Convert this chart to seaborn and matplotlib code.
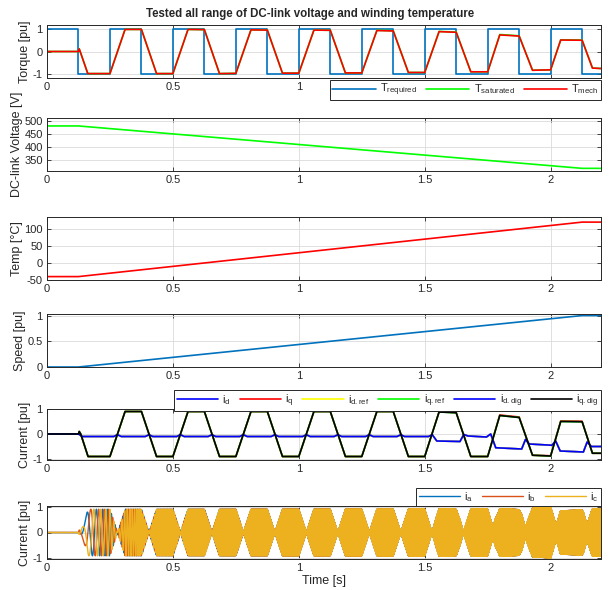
import numpy as np
import pandas as pd
import matplotlib
matplotlib.use("Agg")
import matplotlib.pyplot as plt
import seaborn as sns
from matplotlib.ticker import FuncFormatter

# ---------------- data ----------------
seg_edges = [0.0, 0.125, 0.25, 0.375, 0.5, 0.625, 0.75, 0.875, 1.0, 1.125,
             1.25, 1.375, 1.5, 1.625, 1.75, 1.875, 2.0, 2.125, 2.2]
t_required = [1, -1, 1, -1, 1, -1, 1, -1, 1, -1, 1, -1, 1, -1, 1, -1, 1, -1]

mech_t = [0, 0.125, 0.128, 0.162, 0.25, 0.31, 0.375, 0.435, 0.5, 0.56, 0.625,
          0.685, 0.75, 0.81, 0.875, 0.935, 1.0, 1.06, 1.125, 1.185, 1.25, 1.31,
          1.375, 1.435, 1.5, 1.557, 1.625, 1.683, 1.75, 1.798, 1.875, 1.928,
          2.0, 2.04, 2.125, 2.166, 2.2]
t_mech = [0, 0, 0.12, -1.0, -1.0, 1.0, 1.0, -1.0, -1.0, 1.0, 0.99,
          -1.0, -0.99, 0.98, 0.97, -0.98, -0.98, 0.97, 0.96, -0.97, -0.97, 0.95,
          0.93, -0.95, -0.95, 0.9, 0.87, -0.92, -0.92, 0.75, 0.7, -0.85,
          -0.83, 0.52, 0.51, -0.75, -0.77]
t_saturated = [0, 0, 0.12, -1.0, -1.0, 1.0, 1.0, -1.0, -1.0, 1.0, 0.99,
               -1.0, -0.99, 0.98, 0.97, -0.98, -0.98, 0.97, 0.96, -0.97, -0.97, 0.96,
               0.94, -0.95, -0.95, 0.91, 0.88, -0.92, -0.92, 0.77, 0.71, -0.85,
               -0.83, 0.53, 0.52, -0.75, -0.77]

prof_t = [0.0, 0.125, 2.125, 2.2]
vdc = [480, 480, 320, 320]
temp = [-40, -40, 120, 120]
speed = [0.0, 0.0, 1.0, 1.0]

iq_t = [0, 0.125, 0.128, 0.134, 0.163, 0.25, 0.31, 0.375, 0.435, 0.5, 0.56, 0.625,
        0.685, 0.75, 0.81, 0.875, 0.935, 1.0, 1.06, 1.125, 1.185, 1.25, 1.31,
        1.375, 1.435, 1.5, 1.557, 1.625, 1.683, 1.75, 1.798, 1.875, 1.928,
        2.0, 2.04, 2.125, 2.166, 2.2]
iq_dig = [0, 0, 0.1, 0.0, -0.9, -0.9, 0.9, 0.9, -0.9, -0.9, 0.9, 0.9,
          -0.9, -0.9, 0.9, 0.9, -0.9, -0.9, 0.9, 0.9, -0.9, -0.9, 0.9,
          0.9, -0.9, -0.9, 0.88, 0.85, -0.9, -0.9, 0.74, 0.66, -0.85,
          -0.88, 0.5, 0.49, -0.77, -0.77]
iq_meas = [0, 0, 0.1, 0.0, -0.9, -0.9, 0.9, 0.9, -0.9, -0.9, 0.9, 0.9,
           -0.9, -0.9, 0.9, 0.9, -0.9, -0.9, 0.9, 0.9, -0.9, -0.9, 0.9,
           0.9, -0.9, -0.9, 0.89, 0.86, -0.9, -0.9, 0.76, 0.68, -0.85,
           -0.87, 0.52, 0.51, -0.77, -0.77]

id_t = [0, 0.125, 0.14, 0.155, 0.265, 0.28, 0.295, 0.39, 0.405, 0.42, 0.515,
        0.53, 0.545, 0.64, 0.655, 0.67, 0.765, 0.78, 0.795, 0.89, 0.905, 0.92,
        1.015, 1.03, 1.045, 1.14, 1.155, 1.17, 1.265, 1.28, 1.295, 1.39, 1.405,
        1.42, 1.515, 1.53, 1.548, 1.64, 1.655, 1.672, 1.745, 1.762, 1.782, 1.885,
        1.9, 1.915, 2.005, 2.02, 2.038, 2.13, 2.145, 2.162, 2.2]
id_dig = [0, 0, -0.1, -0.1, -0.1, -0.03, -0.1, -0.1, -0.03, -0.1, -0.1,
          -0.03, -0.1, -0.1, -0.03, -0.1, -0.1, -0.03, -0.1, -0.1, -0.03, -0.1,
          -0.1, -0.03, -0.1, -0.1, -0.03, -0.1, -0.1, -0.03, -0.1, -0.1, -0.03,
          -0.1, -0.1, -0.03, -0.28, -0.3, -0.02, -0.08, -0.12, 0.0, -0.55, -0.6,
          -0.22, -0.4, -0.45, -0.28, -0.68, -0.72, -0.32, -0.5, -0.5]

elec_base_hz = 1000.0  # electrical frequency at 1 pu speed

# ---------------- styling ----------------
sns.set_style("ticks")
plt.rcParams["font.family"] = ["Liberation Sans", "DejaVu Sans"]
plt.rcParams["mathtext.fontset"] = "custom"
plt.rcParams["mathtext.rm"] = "Liberation Sans"
plt.rcParams["mathtext.it"] = "Liberation Sans"
plt.rcParams["axes.edgecolor"] = "#262626"
plt.rcParams["axes.linewidth"] = 0.7

fig = plt.figure(figsize=(6.14, 5.9), dpi=100)
W, H = 614.0, 590.0
left_px, right_px = 47, 601
tops = [25, 118, 217, 314, 409, 506]
bottoms = [78, 171, 280, 367, 460, 559]
axes = []
for tp, bt in zip(tops, bottoms):
    ax = fig.add_axes([left_px / W, 1 - bt / H, (right_px - left_px) / W, (bt - tp) / H])
    axes.append(ax)

BLUE = "#0072BD"
LW = 1.2
LEG_KW = dict(fontsize=8, handletextpad=0.4, frameon=True, fancybox=False,
              borderpad=0.2, framealpha=1, borderaxespad=0, columnspacing=0.8)

def style(ax, ylim, yticks, ylabel):
    ax.set_xlim(0, 2.2)
    ax.set_ylim(*ylim)
    ax.set_yticks(yticks)
    ax.set_xticks([0, 0.5, 1, 1.5, 2])
    ax.xaxis.set_major_formatter(FuncFormatter(lambda v, p: "%g" % v))
    ax.yaxis.set_major_formatter(FuncFormatter(lambda v, p: "%g" % v))
    ax.grid(True, color="#DADADA", lw=0.6)
    ax.set_axisbelow(True)
    ax.tick_params(direction="in", top=True, right=True, length=3, width=0.6,
                   labelsize=8, colors="#262626", pad=3)
    ax.set_ylabel(ylabel, fontsize=9, color="#262626", labelpad=1)
    ax.set_xlabel("")
    for s in ax.spines.values():
        s.set_visible(True)

def frame(leg):
    leg.get_frame().set_edgecolor("#262626")
    leg.get_frame().set_linewidth(0.7)
    leg.set_zorder(5)

# Panel 1: torque
ax = axes[0]
step_x = np.repeat(seg_edges, 2)[1:-1]
step_y = np.repeat(t_required, 2)
df_req = pd.DataFrame({"t": step_x, "v": step_y})
sns.lineplot(data=df_req, x="t", y="v", ax=ax, color=BLUE, lw=LW, estimator=None, sort=False)
sns.lineplot(x=mech_t, y=t_saturated, ax=ax, color="#00FF00", lw=LW, estimator=None, sort=False)
sns.lineplot(x=mech_t, y=t_mech, ax=ax, color="#FF0000", lw=LW, estimator=None, sort=False)
style(ax, (-1.2, 1.2), [-1, 0, 1], "Torque [pu]")
ax.set_title("Tested all range of DC-link voltage and winding temperature",
             fontsize=8.3, fontweight="bold", pad=6, x=0.475)
h = ax.get_lines()[:3]
frame(ax.legend(h, [r"T$_{\rm required}$", r"T$_{\rm saturated}$", r"T$_{\rm mech}$"],
                loc="upper right", bbox_to_anchor=(1.0, -0.03), ncol=3,
                handlelength=3.9, **LEG_KW))

# Panel 2: DC-link voltage
ax = axes[1]
sns.lineplot(x=prof_t, y=vdc, ax=ax, color="#00FF00", lw=LW, estimator=None, sort=False)
style(ax, (310, 510), [350, 400, 450, 500], "DC-link Voltage [V]")

# Panel 3: temperature
ax = axes[2]
sns.lineplot(x=prof_t, y=temp, ax=ax, color="#FF0000", lw=LW, estimator=None, sort=False)
style(ax, (-50, 135), [-50, 0, 50, 100], "Temp [\u00b0C]")

# Panel 4: speed
ax = axes[3]
sns.lineplot(x=prof_t, y=speed, ax=ax, color=BLUE, lw=LW, estimator=None, sort=False)
style(ax, (0, 1.03), [0, 0.5, 1], "Speed [pu]")

# Panel 5: dq currents
ax = axes[4]
sns.lineplot(x=id_t, y=id_dig, ax=ax, color="#0000FF", lw=LW, estimator=None, sort=False)
sns.lineplot(x=iq_t, y=iq_meas, ax=ax, color="#FF0000", lw=LW, estimator=None, sort=False)
sns.lineplot(x=id_t, y=id_dig, ax=ax, color="#FFFF00", lw=LW, estimator=None, sort=False)
sns.lineplot(x=iq_t, y=iq_dig, ax=ax, color="#00FF00", lw=LW, estimator=None, sort=False)
sns.lineplot(x=id_t, y=id_dig, ax=ax, color="#0000FF", lw=LW, estimator=None, sort=False)
sns.lineplot(x=iq_t, y=iq_dig, ax=ax, color="#000000", lw=LW, estimator=None, sort=False)
style(ax, (-1.04, 1.0), [-1, 0, 1], "Current [pu]")
h = ax.get_lines()[:6]
frame(ax.legend(h, [r"i$_{\rm d}$", r"i$_{\rm q}$", r"i$_{\rm d.ref}$", r"i$_{\rm q.ref}$",
                    r"i$_{\rm d.dig}$", r"i$_{\rm q.dig}$"],
                loc="lower right", bbox_to_anchor=(1.0, 0.96), ncol=6,
                handlelength=3.7, **LEG_KW))

# Panel 6: phase currents (inverse Park of the dq currents)
ax = axes[5]
tt = np.linspace(0, 2.2, 110001)
i_d = np.interp(tt, id_t, id_dig)
i_q = np.interp(tt, iq_t, iq_dig)
w = np.interp(tt, prof_t, speed)
theta = 2 * np.pi * elec_base_hz * np.cumsum(w) * (tt[1] - tt[0])
ia = i_d * np.cos(theta) - i_q * np.sin(theta)
ib = i_d * np.cos(theta - 2 * np.pi / 3) - i_q * np.sin(theta - 2 * np.pi / 3)
ic = i_d * np.cos(theta + 2 * np.pi / 3) - i_q * np.sin(theta + 2 * np.pi / 3)
for sig, col in [(ia, "#0072BD"), (ib, "#D95319"), (ic, "#EDB120")]:
    sns.lineplot(x=tt, y=sig, ax=ax, color=col, lw=1.0, estimator=None, sort=False)
style(ax, (-1.03, 1.03), [-1, 0, 1], "Current [pu]")
ax.set_xlabel("Time [s]", fontsize=9, color="#262626", labelpad=1)
h = ax.get_lines()[:3]
frame(ax.legend(h, [r"i$_{\rm a}$", r"i$_{\rm b}$", r"i$_{\rm c}$"],
                loc="lower right", bbox_to_anchor=(1.0, 1.0), ncol=3,
                handlelength=3.7, **LEG_KW))

fig.savefig("out.png", dpi=100)
